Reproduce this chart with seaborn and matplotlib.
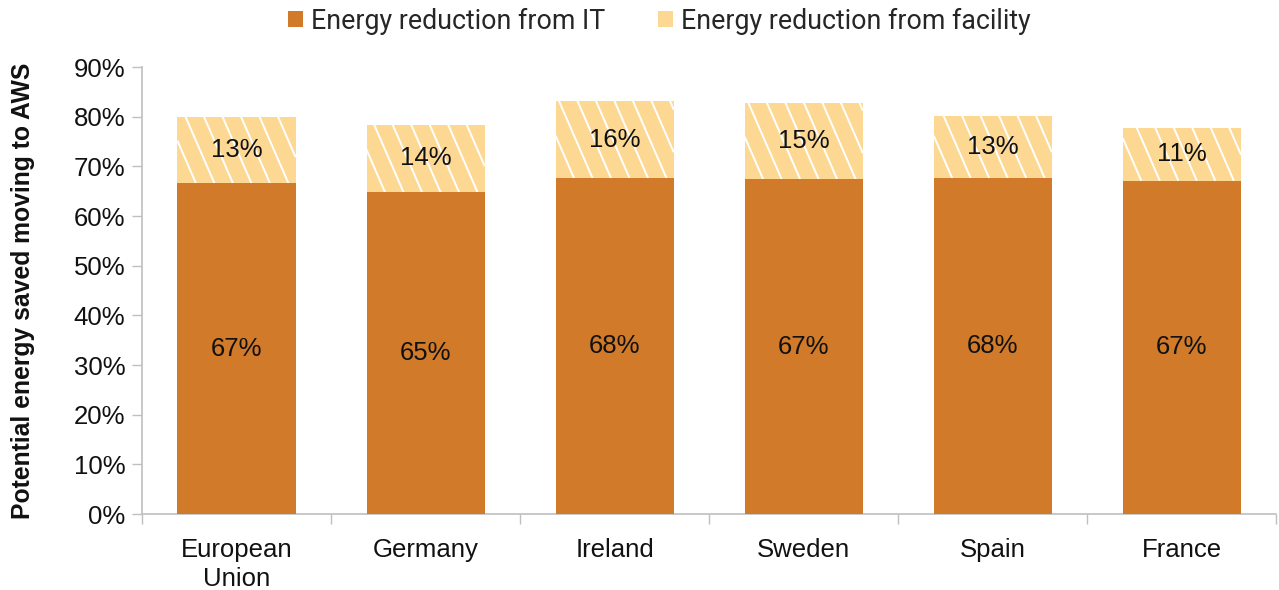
import matplotlib
matplotlib.use("Agg")
import matplotlib.pyplot as plt
from matplotlib.patches import Patch
import numpy as np
import pandas as pd
import seaborn as sns

regions = ["European\nUnion", "Germany", "Ireland", "Sweden", "Spain", "France"]
it_saving = [66.6, 64.8, 67.6, 67.4, 67.6, 67.1]
facility_saving = [13.4, 13.6, 15.6, 15.4, 12.6, 10.7]

it_color = "#D17B2A"
facility_color = "#FDD893"
axis_color = "#BFBFBF"
text_color = "#111111"
fs = 18.5

sns.set_theme(style="white")
plt.rcParams["font.family"] = ["Liberation Sans", "DejaVu Sans"]

df = pd.DataFrame({
    "region": regions,
    "it": it_saving,
    "facility": facility_saving,
})
df["total"] = df["it"] + df["facility"]

fig = plt.figure(figsize=(12.79, 5.90), dpi=100)
ax = fig.add_axes([0.111, 0.1288, 0.887, 0.7576])

# total height drawn first (facility colour), IT share drawn on top of it
sns.barplot(data=df, x="region", y="total", color=facility_color,
            saturation=1, width=0.625, ax=ax, zorder=2)
total_patches = list(ax.patches)
sns.barplot(data=df, x="region", y="it", color=it_color,
            saturation=1, width=0.625, ax=ax, zorder=4)
for p in ax.patches:
    p.set_edgecolor("none")

ax.set_ylim(0, 90)
ax.set_xlim(-0.5, len(regions) - 0.5)
ax.set_yticks(np.arange(0, 91, 10))
ax.set_yticklabels([f"{v}%" for v in range(0, 91, 10)], fontsize=fs, color=text_color)
ax.set_xticks(range(len(regions)))
ax.set_xticklabels(regions, fontsize=fs, color=text_color, linespacing=1.3)
ax.set_xticks(np.arange(-0.5, len(regions), 1.0), minor=True)
ax.tick_params(axis="x", which="major", length=0, pad=17)
ax.tick_params(axis="x", which="minor", length=7, width=1, color=axis_color, direction="out", bottom=True)
ax.tick_params(axis="y", length=7, width=1, color=axis_color, direction="out", left=True, pad=5)
ax.set_xlabel("")
ax.set_ylabel("Potential energy saved moving to AWS", fontsize=17.8,
              fontweight="bold", color=text_color)
ax.yaxis.set_label_coords(-0.094, 0.5)

for side in ["top", "right"]:
    ax.spines[side].set_visible(False)
for side in ["left", "bottom"]:
    ax.spines[side].set_color(axis_color)
    ax.spines[side].set_linewidth(1.2)

# steep white stripes across each facility segment, cut to the segment edges
fig.canvas.draw()
spacing = 18.5
slope = 2.3
to_data = ax.transData.inverted()
for p, a in zip(total_patches, it_saving):
    x0, yb = ax.transData.transform((p.get_x(), a))
    x1, yt = ax.transData.transform((p.get_x() + p.get_width(), p.get_height()))
    h = yt - yb
    run = h / slope
    xs = x0 - run
    while xs < x1:
        # stripe goes from (xs, yt) down to (xs + run, yb)
        t0 = max(0.0, (x0 - xs) / run)
        t1 = min(1.0, (x1 - xs) / run)
        if t1 > t0:
            pa = to_data.transform((xs + t0 * run, yt - t0 * h))
            pb = to_data.transform((xs + t1 * run, yt - t1 * h))
            ax.plot([pa[0], pb[0]], [pa[1], pb[1]], color="white",
                    linewidth=1.4, solid_capstyle="butt", zorder=3)
        xs += spacing

for i, (a, b) in enumerate(zip(it_saving, facility_saving)):
    ax.text(i, a / 2, f"{a:.0f}%", ha="center", va="center", fontsize=fs, color=text_color, zorder=5)
    ax.text(i, a + b / 2, f"{b:.0f}%", ha="center", va="center", fontsize=fs, color=text_color, zorder=5)

handles = [Patch(facecolor=it_color, edgecolor="none", label="Energy reduction from IT"),
           Patch(facecolor=facility_color, edgecolor="none", label="Energy reduction from facility")]
fig.legend(handles=handles, loc="upper center", bbox_to_anchor=(0.5155, 1.028), ncol=2,
           frameon=False, prop={"family": ["Roboto", "DejaVu Sans"], "size": 19.3},
           handlelength=0.55, handleheight=0.55, handletextpad=0.3, columnspacing=2.0)

fig.savefig("out.png", dpi=100)
